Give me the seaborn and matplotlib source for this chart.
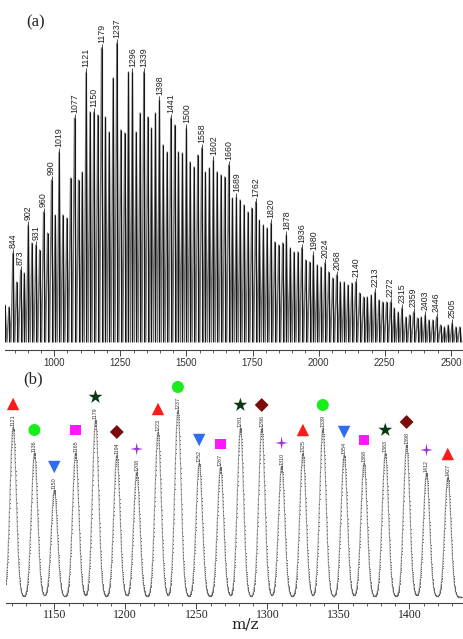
import numpy as np
import pandas as pd
import matplotlib
matplotlib.use("Agg")
import matplotlib.pyplot as plt
from matplotlib.path import Path
from matplotlib.ticker import MultipleLocator
import seaborn as sns

# ---- Panel (a): full spectrum, peak m/z and peak intensity (arbitrary units)
survey_mz = [814, 829, 844, 858, 873, 887, 902, 916, 931, 945, 960, 975, 990, 1004, 1019,
             1033, 1048, 1062, 1077, 1092, 1106, 1121, 1136, 1150, 1165, 1179, 1194, 1208,
             1223, 1237, 1252, 1267, 1281, 1296, 1310, 1325, 1339, 1354, 1368, 1383, 1398,
             1412, 1427, 1441, 1456, 1470, 1485, 1500, 1514, 1529, 1543, 1558, 1572, 1587,
             1602, 1616, 1631, 1645, 1660, 1674, 1689, 1703, 1718, 1733, 1747, 1762, 1776,
             1791, 1805, 1820, 1834, 1849, 1864, 1878, 1893, 1907, 1922, 1936, 1951, 1966,
             1980, 1995, 2009, 2024, 2038, 2053, 2068, 2082, 2097, 2111, 2126, 2140, 2155,
             2170, 2184, 2199, 2213, 2228, 2242, 2257, 2272, 2286, 2301, 2315, 2330, 2344,
             2359, 2374, 2388, 2403, 2417, 2432, 2446, 2461, 2476, 2490, 2505, 2519, 2534]
survey_height = [45, 43, 97, 68, 80, 77, 125, 107, 105, 100, 138, 117, 170, 135, 198,
                 135, 132, 172, 232, 170, 178, 278, 238, 238, 235, 302, 233, 218,
                 272, 307, 220, 217, 278, 278, 218, 237, 278, 233, 222, 237, 250,
                 205, 198, 232, 225, 198, 197, 222, 188, 183, 195, 202, 178, 182,
                 190, 178, 175, 173, 185, 152, 153, 150, 145, 138, 142, 148, 130,
                 125, 122, 127, 108, 105, 107, 115, 102, 98, 98, 102, 90, 88,
                 95, 85, 83, 87, 78, 72, 75, 68, 68, 65, 67, 68, 57,
                 53, 53, 55, 58, 50, 48, 48, 48, 42, 38, 42, 33, 35,
                 38, 32, 33, 35, 30, 30, 33, 25, 23, 25, 27, 23, 23]
survey_floor = 8
survey_labels = [844, 873, 902, 931, 960, 990, 1019, 1077, 1121, 1150, 1179, 1237, 1296,
                 1339, 1398, 1441, 1500, 1558, 1602, 1660, 1689, 1762, 1820, 1878, 1936,
                 1980, 2024, 2068, 2140, 2213, 2272, 2315, 2359, 2403, 2446, 2505]

# ---- Panel (b): zoomed region 1121-1427
zoom_mz = [1121, 1136, 1150, 1165, 1179, 1194, 1208, 1223, 1237, 1252, 1267,
           1281, 1296, 1310, 1325, 1339, 1354, 1368, 1383, 1398, 1412, 1427]
zoom_height = [170, 144, 107, 144, 177, 142, 125, 165, 187, 134, 130,
               169, 169, 131, 144, 169, 142, 134, 144, 152, 124, 120]
zoom_series = ["S1", "S2", "S3", "S4", "S5", "S6", "S7",
               "S1", "S2", "S3", "S4", "S5", "S6", "S7",
               "S1", "S2", "S3", "S4", "S5", "S6", "S7", "S1"]

series_colors = {"S1": "#ff1a1a", "S2": "#1aee1a", "S3": "#2f6cf2", "S4": "#ff18ff",
                 "S5": "#0a3812", "S6": "#7a0c0c", "S7": "#9d2fd8"}
thin_star = Path([(0, 1), (0.16, 0.16), (1, 0), (0.16, -0.16), (0, -1),
                  (-0.16, -0.16), (-1, 0), (-0.16, 0.16), (0, 1)],
                 [Path.MOVETO] + [Path.LINETO] * 7 + [Path.CLOSEPOLY])
series_markers = {"S1": "^", "S2": "o", "S3": "v", "S4": "s", "S5": "*", "S6": "D", "S7": thin_star}
series_sizes = {"S1": 80, "S2": 75, "S3": 80, "S4": 62, "S5": 110, "S6": 50, "S7": 85}

sns.set_style("white")

fig = plt.figure(figsize=(4.63, 6.39), dpi=100)
ax_a = fig.add_axes([5 / 463, 1 - 350 / 639, 458 / 463, 330 / 639])
ax_b = fig.add_axes([6 / 463, 1 - 603 / 639, 456 / 463, 233 / 639])

# Zig-zag trace for the survey spectrum: each peak drops to the floor between neighbours
trace_x = [survey_mz[0] - 7]
trace_y = [survey_floor]
for i in range(len(survey_mz)):
    trace_x.append(survey_mz[i])
    trace_y.append(survey_height[i])
    if i < len(survey_mz) - 1:
        trace_x.append((survey_mz[i] + survey_mz[i + 1]) / 2)
    else:
        trace_x.append(survey_mz[i] + 7)
    trace_y.append(survey_floor)
df_a = pd.DataFrame({"mz": trace_x, "intensity": trace_y})

sns.lineplot(data=df_a, x="mz", y="intensity", estimator=None, sort=False,
             color="#6e6e6e", linewidth=1.0, ax=ax_a)
# dark sticks on top of every peak
ax_a.vlines(survey_mz, survey_floor, survey_height, color="#151515", linewidth=0.8)

peak_lookup = dict(zip(survey_mz, survey_height))
for mz in survey_labels:
    top = peak_lookup[mz]
    ax_a.vlines(mz, top, top + 4, color="#333333", linewidth=0.6)
    ax_a.text(mz, top + 5, str(mz), rotation=90, ha="center", va="bottom",
              fontsize=6.3, family="Liberation Sans", color="#222222")

ax_a.set_xlim(814, 2546)
ax_a.set_ylim(0, 330)
ax_a.xaxis.set_major_locator(MultipleLocator(250))
ax_a.xaxis.set_minor_locator(MultipleLocator(50))
ax_a.set_yticks([])
ax_a.set_xlabel("")
ax_a.set_ylabel("")
for lbl in ax_a.get_xticklabels():
    lbl.set_family("Liberation Sans")
    lbl.set_fontsize(7)
    lbl.set_color("#333333")

# Zoomed profile: Gaussian-shaped peaks built from the peak table
sigma = 2.2
grid = np.arange(1112, 1442, 0.1)
profile = np.zeros_like(grid)
for c, h in zip(zoom_mz, zoom_height):
    profile += h * np.exp(-0.5 * ((grid - c) / sigma) ** 2)
df_b = pd.DataFrame({"mz": grid, "intensity": profile})

sns.lineplot(data=df_b, x="mz", y="intensity", estimator=None, color="#a8a8a8",
             linewidth=0.8, marker="o", markersize=0.8, markeredgewidth=0,
             markerfacecolor="#666666", ax=ax_b)

for mz, h in zip(zoom_mz, zoom_height):
    ax_b.text(mz, h + 1, str(mz), rotation=90, ha="center", va="bottom",
              fontsize=3.9, family="Liberation Sans", color="#333333")

df_marks = pd.DataFrame({"mz": zoom_mz,
                         "y": [h + 23 for h in zoom_height],
                         "series": zoom_series})
sns.scatterplot(data=df_marks, x="mz", y="y", hue="series", style="series", size="series",
                palette=series_colors, markers=series_markers, sizes=series_sizes,
                linewidth=0, legend=False, ax=ax_b, zorder=5)

ax_b.set_xlim(1116, 1437)
ax_b.set_ylim(-6, 227)
ax_b.xaxis.set_major_locator(MultipleLocator(50))
ax_b.xaxis.set_minor_locator(MultipleLocator(10))
ax_b.set_yticks([])
ax_b.set_xlabel("")
ax_b.set_ylabel("")
for lbl in ax_b.get_xticklabels():
    lbl.set_family("Liberation Serif")
    lbl.set_fontsize(8.5)
    lbl.set_color("#222222")

for ax, pad in ((ax_a, 1.5), (ax_b, 0.3)):
    for side in ("top", "left", "right"):
        ax.spines[side].set_visible(False)
    ax.spines["bottom"].set_color("#444444")
    ax.spines["bottom"].set_linewidth(0.8)
    ax.tick_params(axis="x", which="major", direction="out", length=4, width=0.7,
                   color="#444444", pad=pad, bottom=True)
    ax.tick_params(axis="x", which="minor", direction="out", length=2.5, width=0.6,
                   color="#444444", bottom=True)
    ax.patch.set_alpha(0)

fig.text(36 / 463, 1 - 22 / 639, "(a)", ha="center", va="center",
         fontsize=12, family="Liberation Serif")
fig.text(33 / 463, 1 - 379 / 639, "(b)", ha="center", va="center",
         fontsize=12, family="Liberation Serif")
fig.text(245 / 463, 1 - 624 / 639, "m/z", ha="center", va="center",
         fontsize=11, family="DejaVu Serif", color="#222222")

fig.savefig("out.png", dpi=100)
